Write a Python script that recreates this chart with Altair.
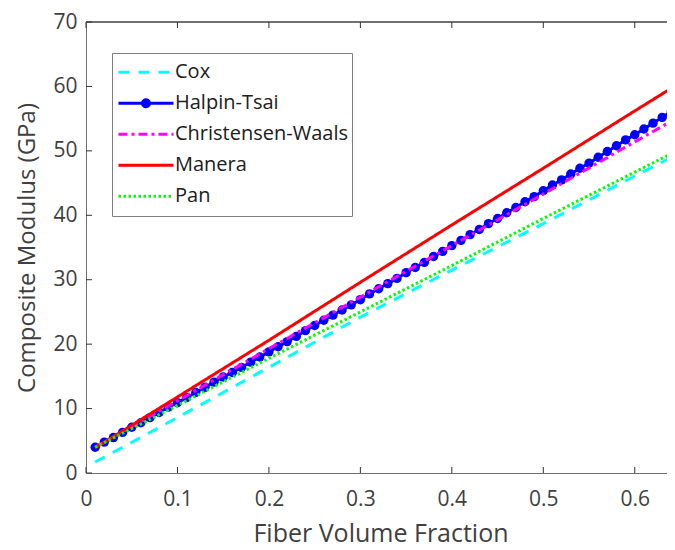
import altair as alt
import pandas as pd

FONT = "Open Sans"

models = ["Cox", "Halpin-Tsai", "Christensen-Waals", "Manera", "Pan"]
colors = ["#00FFFF", "#0000FF", "#FF00FF", "#FF0000", "#00FF00"]
dashes = [[11, 9], [1, 0], [9, 4, 3, 4], [1, 0], [2.5, 2.5]]

x_ticks = [0, 0.1, 0.2, 0.3, 0.4, 0.5, 0.6]
y_ticks = [0, 10, 20, 30, 40, 50, 60, 70]

# fibre volume fraction for the smooth model curves
vf_coarse = [0.01, 0.1, 0.2, 0.3, 0.4, 0.5, 0.6, 0.65]
cox = [1.7, 8.6, 16.4, 24.2, 31.5, 38.7, 46.1, 49.7]
christensen = [4.0, 11.2, 19.3, 27.3, 35.3, 43.3, 51.4, 55.4]
manera = [3.9, 11.8, 20.6, 29.6, 38.5, 47.3, 56.2, 60.6]
pan = [4.0, 10.5, 17.8, 25.0, 32.2, 39.5, 46.7, 50.3]

# Halpin-Tsai, sampled with markers
vf_ht = [0.01, 0.02, 0.03, 0.04, 0.05, 0.06, 0.07, 0.08, 0.09, 0.10,
         0.11, 0.12, 0.13, 0.14, 0.15, 0.16, 0.17, 0.18, 0.19, 0.20,
         0.21, 0.22, 0.23, 0.24, 0.25, 0.26, 0.27, 0.28, 0.29, 0.30,
         0.31, 0.32, 0.33, 0.34, 0.35, 0.36, 0.37, 0.38, 0.39, 0.40,
         0.41, 0.42, 0.43, 0.44, 0.45, 0.46, 0.47, 0.48, 0.49, 0.50,
         0.51, 0.52, 0.53, 0.54, 0.55, 0.56, 0.57, 0.58, 0.59, 0.60,
         0.61, 0.62, 0.63, 0.64]
halpin = [4.0, 4.8, 5.5, 6.3, 7.1, 7.8, 8.6, 9.4, 10.2, 10.9,
          11.7, 12.5, 13.3, 14.1, 14.9, 15.6, 16.4, 17.2, 18.0, 18.8,
          19.6, 20.4, 21.2, 22.1, 22.9, 23.7, 24.5, 25.3, 26.1, 26.9,
          27.8, 28.6, 29.4, 30.2, 31.1, 31.9, 32.7, 33.6, 34.4, 35.3,
          36.1, 37.0, 37.8, 38.7, 39.5, 40.4, 41.2, 42.1, 42.9, 43.8,
          44.7, 45.5, 46.4, 47.3, 48.1, 49.0, 49.9, 50.8, 51.7, 52.5,
          53.4, 54.3, 55.2, 56.1]

rows = []
for name, vals in [("Cox", cox), ("Christensen-Waals", christensen),
                   ("Manera", manera), ("Pan", pan)]:
    for xv, yv in zip(vf_coarse, vals):
        rows.append({"Vf": xv, "E": yv, "model": name})
for xv, yv in zip(vf_ht, halpin):
    rows.append({"Vf": xv, "E": yv, "model": "Halpin-Tsai"})
df = pd.DataFrame(rows)

xticks_df = pd.DataFrame({"Vf": x_ticks})
yticks_df = pd.DataFrame({"E": y_ticks})

xscale = alt.Scale(domain=[0, 0.644], nice=False, zero=False)
yscale = alt.Scale(domain=[0, 70], nice=False)

FRAME = "#707070"
AX_COMMON = dict(
    grid=False,
    domain=True,
    domainColor=FRAME,
    domainWidth=1,
    ticks=False,
    labelFont=FONT,
    labelColor="#404040",
    labelFlush=False,
    labelOverlap=False,
    titleFont=FONT,
    titleColor="#404040",
    titleFontWeight="normal",
)

x_axis = alt.Axis(
    orient="bottom", values=x_ticks, format=".1~f",
    title="Fiber Volume Fraction", labelFontSize=21, labelPadding=15,
    titleFontSize=25, titleY=60, titleBaseline="middle", **AX_COMMON)
y_axis = alt.Axis(
    orient="left", values=y_ticks, format="d",
    title="Composite Modulus (GPa)", labelFontSize=21, labelPadding=9,
    titleFontSize=24, titleX=-59, titleBaseline="middle", **AX_COMMON)

X = alt.X("Vf:Q", scale=xscale, axis=x_axis)
Y = alt.Y("E:Q", scale=yscale, axis=y_axis)

LINE = "M-6.875,0H6.875"
HT = ("M-6.875,0H6.875"
      "M0.875,0A0.875,0.875,0,1,1,-0.875,0A0.875,0.875,0,1,1,0.875,0"
      "M0.475,0A0.475,0.475,0,1,1,-0.475,0A0.475,0.475,0,1,1,0.475,0"
      "M0.14,0A0.14,0.14,0,1,1,-0.14,0A0.14,0.14,0,1,1,0.14,0")

legend = alt.Legend(
    title=None, orient="none", legendX=26, legendY=31,
    fillColor="white", strokeColor="#808080", padding=4,
    symbolType={"expr": "datum.value === 'Halpin-Tsai' ? '" + HT + "' : '" + LINE + "'"},
    symbolSize=64, symbolStrokeWidth=3, symbolOffset=20,
    clipHeight=30.5, rowPadding=0,
    labelFont=FONT, labelFontSize=20, labelColor="#202020",
    labelOffset=19, labelLimit=400,
)

color = alt.Color("model:N", scale=alt.Scale(domain=models, range=colors),
                  legend=legend)
dash = alt.StrokeDash("model:N", scale=alt.Scale(domain=models, range=dashes),
                      legend=legend)

base = alt.Chart(df)

lines_a = base.transform_filter(
    alt.FieldOneOfPredicate(field="model", oneOf=["Cox", "Halpin-Tsai"])
).mark_line(strokeWidth=3, clip=True).encode(
    x=X, y=Y, color=color, strokeDash=dash, order="Vf:Q",
)

points = base.transform_filter(
    alt.datum.model == "Halpin-Tsai"
).mark_circle(size=88, opacity=1, clip=True).encode(
    x=X, y=Y, color=alt.value("#0000FF"),
)

lines_c = base.transform_filter(
    alt.FieldOneOfPredicate(field="model", oneOf=["Christensen-Waals", "Manera", "Pan"])
).mark_line(strokeWidth=3, clip=True).encode(
    x=X, y=Y, color=color, strokeDash=dash, order="Vf:Q",
)

TICK_COLOR = "#333333"
ticks_bottom = alt.Chart(xticks_df).mark_rule(color=TICK_COLOR, strokeWidth=1).encode(
    x=X, y=alt.value(451), y2=alt.value(445))
ticks_top = alt.Chart(xticks_df).mark_rule(color=TICK_COLOR, strokeWidth=1).encode(
    x=X, y=alt.value(0), y2=alt.value(6))
ticks_left = alt.Chart(yticks_df).mark_rule(color=TICK_COLOR, strokeWidth=1).encode(
    y=Y, x=alt.value(0), x2=alt.value(6))
frame_top = alt.Chart(xticks_df).mark_rule(color=FRAME, strokeWidth=1).encode(
    x=alt.value(0), x2=alt.value(589), y=alt.value(0))

chart = alt.layer(
    frame_top, ticks_bottom, ticks_top, ticks_left, lines_a, points, lines_c
).properties(
    width=589, height=451,
    padding={"left": 78, "top": 14, "right": -8, "bottom": 76},
    autosize=alt.AutoSizeParams(type="none"),
    background="white",
).configure_view(stroke=None)

chart.save("out.html", embed_options={"renderer": "svg", "actions": False})
